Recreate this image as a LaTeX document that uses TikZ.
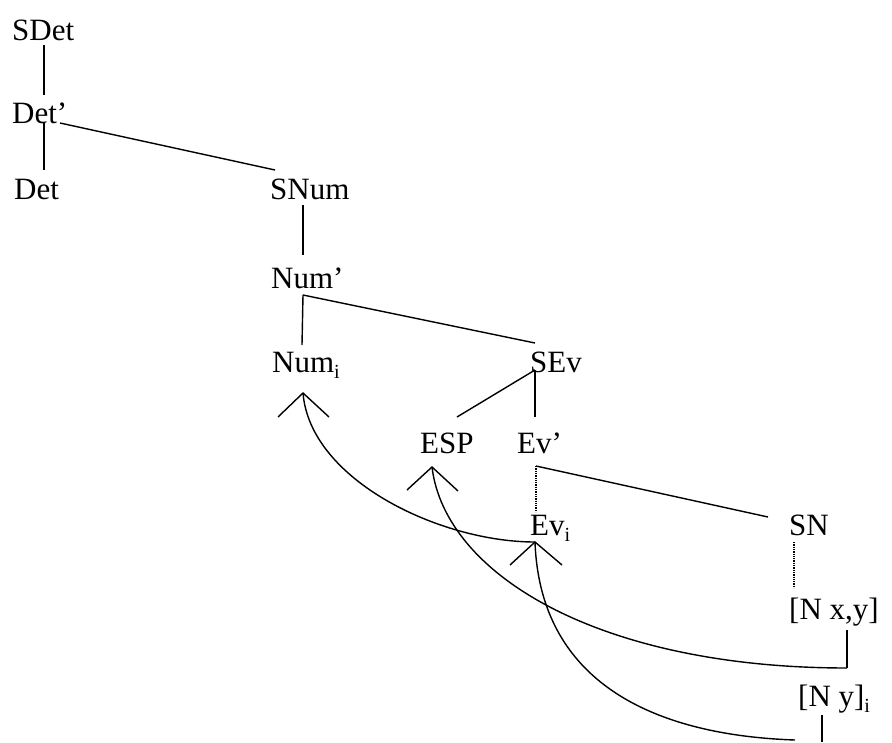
\documentclass[tikz,border=0pt]{standalone}
\usepackage{fontspec}
\setmainfont{Liberation Serif}
\newcommand{\lowsub}[1]{\raisebox{-0.22em}{\fontsize{20}{22}\selectfont #1}}
\begin{document}
\begin{tikzpicture}[x=1pt,y=-1pt,
  lbl/.style={anchor=base west,inner sep=0pt,font=\fontsize{31}{36}\selectfont},
  edge/.style={line width=1.4pt},
  dotedge/.style={line width=1.3pt,densely dotted},
  caret/.style={line width=1.4pt},
  move/.style={line width=1.4pt}]
\useasboundingbox (0,0) rectangle (892,742);
% labels
\node[lbl] (SDet) at (12,40) {SDet};
\node[lbl] (Detp) at (12,123) {Det’};
\node[lbl] (Det) at (14,199) {Det};
\node[lbl] (SNum) at (270,199) {SNum};
\node[lbl] (Nump) at (271,288) {Num’};
\node[lbl] (Numi) at (272,372) {Num\lowsub{i}};
\node[lbl] (SEv) at (530,372) {SEv};
\node[lbl] (ESP) at (420,453) {ESP};
\node[lbl] (Evp) at (517,453) {Ev’};
\node[lbl] (Evi) at (530,535) {Ev\lowsub{i}};
\node[lbl] (SN) at (789,535) {SN};
\node[lbl] (Nxy) at (789,619) {[N x,y]};
\node[lbl] (Nyi) at (798,706) {[N y]\lowsub{i}};
% attachment points
\coordinate (sdetB) at (44,45);
\coordinate (detpT) at (44,95);
\coordinate (detpB) at (44,123);
\coordinate (detpR) at (60,123);
\coordinate (detT) at (44,170);
\coordinate (snumT) at (275,170);
\coordinate (snumB) at (303,205);
\coordinate (numpT) at (303,255);
\coordinate (numpB) at (303,295);
\coordinate (numiT) at (302,345);
\coordinate (sevT) at (535,343);
\coordinate (sevB) at (535,370);
\coordinate (espT) at (457,417);
\coordinate (evpT) at (535,417);
\coordinate (evpB) at (536,466);
\coordinate (eviT) at (536,512);
\coordinate (snT) at (768,517);
\coordinate (snB) at (794,542);
\coordinate (nxyT) at (794,588);
\coordinate (nxyB) at (847,630);
\coordinate (nxyE) at (847,668);
\coordinate (nyiB) at (822,715);
\coordinate (nyiE) at (822,742);
\coordinate (trace2) at (795,740);
% carets
\coordinate (cNum) at (303,393);
\coordinate (cESP) at (432,467);
\coordinate (cEv) at (535,542);
% tree edges
\draw[edge] (sdetB) -- (detpT);
\draw[edge] (detpB) -- (detT);
\draw[edge] (detpR) -- (snumT);
\draw[edge] (snumB) -- (numpT);
\draw[edge] (numpB) -- (numiT);
\draw[edge] (numpB) -- (sevT);
\draw[edge] (sevB) -- (espT);
\draw[edge] (sevB) -- (evpT);
\draw[dotedge] (evpB) -- (eviT);
\draw[edge] (evpB) -- (snT);
\draw[dotedge] (snB) -- (nxyT);
\draw[edge] (nxyB) -- (nxyE);
\draw[edge] (nyiB) -- (nyiE);
% carets
\draw[caret] (278,417) -- (cNum) -- (329,417);
\draw[caret] (407,490) -- (cESP) -- (458,491);
\draw[caret] (510,565) -- (cEv) -- (562,565);
% movement curves
\draw[move] (cNum) .. controls (310,480) and (440,542) .. (cEv);
\draw[move] (cESP) .. controls (445,575) and (600,668) .. (nxyE);
\draw[move] (cEv) .. controls (540,680) and (650,735) .. (trace2);
\end{tikzpicture}
\end{document}
